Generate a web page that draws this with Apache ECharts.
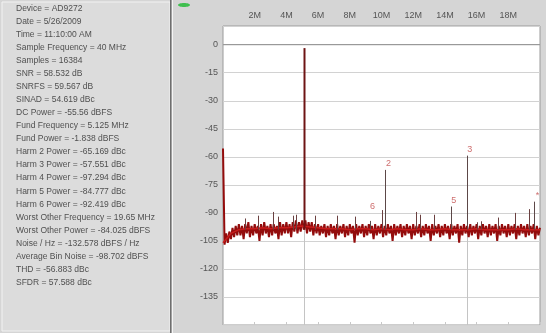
<!DOCTYPE html>
<html>
<head>
<meta charset="utf-8">
<script src="https://cdn.jsdelivr.net/npm/echarts@6/dist/echarts.min.js"></script>
<style>
  html, body { margin: 0; padding: 0; background: #d5d5d5; }
  #chart { width: 546px; height: 333px; }
</style>
</head>
<body>
<div id="chart"></div>
<script>
// analysis summary shown in the left panel
const infoLines = [
  'Device = AD9272',
  'Date = 5/26/2009',
  'Time = 11:10:00 AM',
  'Sample Frequency = 40 MHz',
  'Samples = 16384',
  'SNR = 58.532 dB',
  'SNRFS = 59.567 dB',
  'SINAD = 54.619 dBc',
  'DC Power = -55.56 dBFS',
  'Fund Frequency = 5.125 MHz',
  'Fund Power = -1.838 dBFS',
  'Harm 2 Power = -65.169 dBc',
  'Harm 3 Power = -57.551 dBc',
  'Harm 4 Power = -97.294 dBc',
  'Harm 5 Power = -84.777 dBc',
  'Harm 6 Power = -92.419 dBc',
  'Worst Other Frequency = 19.65 MHz',
  'Worst Other Power = -84.025 dBFS',
  'Noise / Hz = -132.578 dBFS / Hz',
  'Average Bin Noise = -98.702 dBFS',
  'THD = -56.883 dBc',
  'SFDR = 57.588 dBc'
]

// noise floor, one value every 0.1 MHz (dBFS), first bin is DC
const binStep = 0.1
const noiseLevels = [
  -55.6, -107, -101, -106, -100, -104, -98, -103, -97, -102,
  -96, -102, -97, -104, -96, -101, -95, -103, -97, -102,
  -96, -101, -97, -105, -96, -102, -95, -101, -97, -103,
  -96, -102, -96, -101, -97, -104, -95, -102, -96, -101,
  -95, -101, -96, -103, -95, -100, -94, -101, -95, -100,
  -94, -99, -94, -101, -95, -100, -95, -102, -96, -101,
  -96, -102, -97, -101, -96, -103, -97, -102, -96, -101,
  -97, -104, -96, -102, -97, -101, -96, -103, -97, -102,
  -96, -101, -97, -106, -96, -102, -97, -101, -96, -103,
  -97, -102, -96, -101, -97, -104, -96, -102, -97, -101,
  -96, -103, -97, -102, -96, -101, -97, -105, -96, -102,
  -97, -101, -96, -103, -97, -102, -96, -101, -97, -104,
  -96, -102, -97, -101, -96, -103, -97, -102, -96, -101,
  -97, -105, -96, -102, -97, -101, -96, -103, -97, -102,
  -96, -101, -97, -104, -96, -102, -97, -101, -96, -106,
  -97, -102, -96, -101, -97, -103, -96, -102, -97, -101,
  -96, -104, -97, -102, -96, -101, -97, -103, -96, -102,
  -97, -101, -96, -105, -97, -102, -96, -101, -97, -103,
  -96, -102, -97, -101, -96, -104, -97, -102, -96, -101,
  -97, -103, -96, -102, -97, -101, -96, -104, -97, -102, -98
]

// smoothed floor, one value every 0.5 MHz
const midStep = 0.5
const noiseMid = [
  -106, -101, -99, -98.5, -98.5, -98, -98.5, -98, -98, -97.5,
  -97, -97.5, -98, -98.5, -98.5, -98.5, -99, -98.5, -98.5, -99,
  -98.5, -99, -98.5, -99, -99, -98.5, -99, -99, -98.5, -99,
  -99, -99, -98.5, -99, -99, -99, -99, -98.5, -99, -99, -99
]

// small spurs above the floor
const spurFreq = [1.4, 2.2, 3.15, 3.5, 4.4, 4.6, 5.8, 7.2, 8.3, 10.03, 12.2, 12.4, 13.3, 16.0, 16.3, 17.35, 18.4, 19.3]
const spurLevel = [-93, -91.5, -89.5, -92, -91.5, -91, -91.5, -91.5, -92, -88.5, -89.5, -91, -91, -95, -94.5, -92.5, -90, -88]

// fundamental, harmonics (aliased) and worst other spur
const fundFreq = 5.125
const fundLevel = -1.84
const harmTag = ['2', '3', '5', '6', '*']
const harmFreq = [10.25, 15.375, 14.375, 9.25, 19.65]
const harmLevel = [-67.0, -59.4, -86.6, -94.3, -84.0]

const floorLevel = -99
const bottomLevel = -150

const chart = echarts.init(document.getElementById('chart'))

function stems(name, freqs, levels, base, color, width, z) {
  return {
    type: 'custom',
    name: name,
    z: z,
    data: freqs.map((f, i) => [f, levels[i]]),
    encode: { x: 0, y: 1 },
    renderItem: function (params, api) {
      const top = api.coord([api.value(0), api.value(1)])
      const bot = api.coord([api.value(0), base])
      const x = Math.round(top[0]) + 0.5
      return {
        type: 'line',
        shape: { x1: x, y1: top[1], x2: x, y2: bot[1] },
        style: { stroke: color, lineWidth: width }
      }
    }
  }
}

const textFont = 'Liberation Sans, Arial, sans-serif'

const panel = [
  { type: 'rect', shape: { x: 2, y: 2, width: 168, height: 329 }, style: { fill: '#dcdcdc', stroke: '#f2f2f2', lineWidth: 1 }, silent: true },
  { type: 'rect', shape: { x: 170, y: 0, width: 1.5, height: 333 }, style: { fill: '#6e6e6e' }, silent: true },
  { type: 'rect', shape: { x: 172, y: 0, width: 1, height: 333 }, style: { fill: '#f4f4f4' }, silent: true },
  { type: 'ellipse', shape: { cx: 184, cy: 5, rx: 6, ry: 2 }, style: { fill: '#3fbf4f' }, silent: true }
].concat(infoLines.map((t, i) => ({
  type: 'text',
  left: 16,
  top: 4 + i * 13.05,
  silent: true,
  style: { text: t, fill: '#505050', font: '8.5px ' + textFont }
})))

const option = {
  animation: false,
  backgroundColor: '#d5d5d5',
  graphic: panel,
  grid: {
    left: 223,
    right: 6,
    top: 26,
    bottom: 8,
    show: true,
    backgroundColor: '#ffffff',
    borderColor: '#9a9a9a',
    borderWidth: 1
  },
  xAxis: [
    {
      type: 'value',
      position: 'top',
      min: 0,
      max: 20,
      interval: 2,
      axisLine: { show: false },
      axisTick: { show: false },
      splitLine: { show: false },
      axisLabel: {
        showMinLabel: false,
        showMaxLabel: false,
        margin: 6,
        color: '#555',
        fontSize: 9,
        fontFamily: textFont,
        formatter: (v) => v + 'M'
      }
    },
    {
      type: 'value',
      position: 'bottom',
      min: 0,
      max: 20,
      interval: 2,
      axisLine: { show: false },
      axisTick: { show: true, inside: true, length: 3, lineStyle: { color: '#c8c8c8' } },
      axisLabel: { show: false },
      splitLine: { show: false }
    }
  ],
  yAxis: {
    type: 'value',
    min: -150,
    max: 10,
    interval: 15,
    axisLine: { show: false },
    axisTick: { show: false },
    axisLabel: {
      showMinLabel: false,
      showMaxLabel: false,
      margin: 5,
      color: '#555',
      fontSize: 9,
      fontFamily: textFont
    },
    splitLine: { lineStyle: { color: '#d2d2d2', width: 1 } }
  },
  series: [
    {
      type: 'line',
      name: 'zero',
      data: [[0, 0], [20, 0]],
      symbol: 'none',
      silent: true,
      z: 1,
      lineStyle: { color: '#8c8c8c', width: 1 }
    },
    stems('marker fund', [fundFreq], [fundLevel], bottomLevel, '#c4c4c4', 1, 1),
    stems('marker h3', [harmFreq[1]], [harmLevel[1]], bottomLevel, '#c4c4c4', 1, 1),
    {
      type: 'line',
      name: 'noise',
      data: noiseLevels.map((v, i) => [+(i * binStep).toFixed(2), v]),
      symbol: 'none',
      z: 3,
      lineStyle: { color: '#930c0c', width: 2 }
    },
    {
      type: 'line',
      name: 'floor',
      data: noiseMid.map((v, i) => [i * midStep, v]),
      symbol: 'none',
      z: 4,
      lineStyle: { color: '#c81c1c', width: 1.5 }
    },
    stems('spurs', spurFreq, spurLevel, floorLevel, '#6a4040', 1, 5),
    stems('harmonics', harmFreq, harmLevel, floorLevel, '#5c4848', 1, 5),
    stems('fundamental', [fundFreq], [fundLevel], floorLevel, '#6e1414', 2, 6),
    {
      type: 'scatter',
      name: 'tags',
      data: harmFreq.map((f, i) => ({
        value: [f, harmLevel[i]],
        label: { offset: harmTag[i] === '6' ? [3, -8] : [3, 0] }
      })),
      symbolSize: 0,
      z: 7,
      label: {
        show: true,
        position: 'top',
        distance: 2,
        color: '#c24a4a',
        fontSize: 9,
        fontFamily: textFont,
        formatter: (p) => harmTag[p.dataIndex]
      }
    }
  ]
}

chart.setOption(option)
</script>
</body>
</html>
